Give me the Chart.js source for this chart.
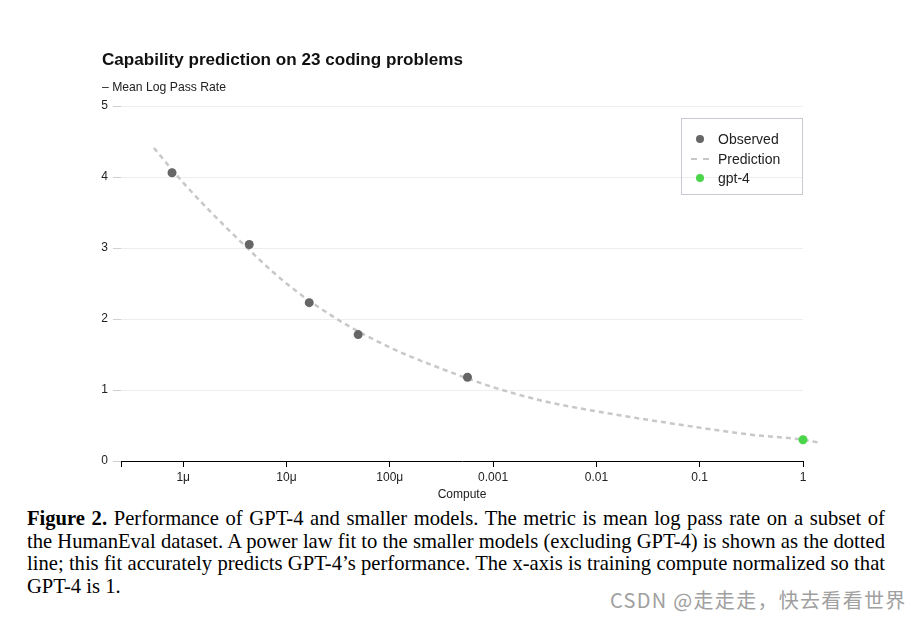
<!DOCTYPE html>
<html>
<head>
<meta charset="utf-8">
<script src="https://cdn.jsdelivr.net/npm/chart.js@4.4.1/dist/chart.umd.min.js"></script>
<style>
  body { margin: 0; background: #fff; width: 923px; height: 618px; position: relative; overflow: hidden; font-family: 'Liberation Sans', Arial, sans-serif; }
  #chart { position: absolute; left: 0; top: 0; }
  .title { position: absolute; left: 102px; top: 50px; font-size: 17.1px; font-weight: bold; color: #111; white-space: nowrap; }
  .subtitle { position: absolute; left: 102px; top: 80px; font-size: 12.2px; color: #222; white-space: nowrap; }
  #legend { position: absolute; left: 681px; top: 118px; width: 120px; height: 75px; border: 1px solid #c9c9d2; }
  .item { position: absolute; left: 0; height: 18px; line-height: 18px; font-size: 14px; color: #222; white-space: nowrap; }
  .item span.mk { position: absolute; left: 14px; top: 5px; width: 8px; height: 8px; border-radius: 50%; }
  .item span.dash { position: absolute; left: 9px; top: 8px; width: 18px; height: 0; border-top: 2px dashed #c8c8c8; }
  .item span.lb { position: absolute; left: 36px; }
  .caption { position: absolute; left: 27px; top: 507px; width: 858px; font-family: 'Liberation Serif', 'Times New Roman', serif; font-size: 20.6px; line-height: 22.7px; color: #000; }
  .caption div { text-align: justify; text-align-last: justify; white-space: nowrap; }
  .caption div.last { text-align-last: left; }
  .watermark { position: absolute; left: 610px; top: 585px; font-family: 'Noto Sans CJK SC', sans-serif; font-size: 20px; letter-spacing: 1.3px; color: #a0a0a0; white-space: nowrap; }
</style>
</head>
<body>
<canvas id="chart" width="923" height="502"></canvas>
<div class="title">Capability prediction on 23 coding problems</div>
<div class="subtitle">– Mean Log Pass Rate</div>
<div id="legend"></div>
<div class="caption">
  <div><b>Figure 2.</b> Performance of GPT-4 and smaller models. The metric is mean log pass rate on a subset of</div>
  <div>the HumanEval dataset. A power law fit to the smaller models (excluding GPT-4) is shown as the dotted</div>
  <div>line; this fit accurately predicts GPT-4’s performance. The x-axis is training compute normalized so that</div>
  <div class="last">GPT-4 is 1.</div>
</div>
<div class="watermark">CSDN @走走走，快去看看世界</div>
<script>
// observed smaller models (compute normalized so gpt-4 = 1)
const observedCompute = [7.8e-7, 4.36e-6, 1.66e-5, 4.94e-5, 5.65e-4];
const observedRate = [4.06, 3.05, 2.23, 1.78, 1.18];

const gpt4Compute = [1];
const gpt4Rate = [0.30];

// power law fit
const predCompute = [5.2e-7, 1e-6, 3.16e-6, 1e-5, 3.16e-5, 1e-4, 3.16e-4, 1e-3, 3.16e-3, 1e-2, 3.16e-2, 0.1, 0.316, 1, 1.41];
const predRate = [4.41, 3.92, 3.17, 2.50, 1.99, 1.60, 1.30, 1.04, 0.84, 0.70, 0.58, 0.47, 0.37, 0.30, 0.26];

const xMin = 2.5e-7;
const xMax = 1;
const xTickValues = [xMin, 1e-6, 1e-5, 1e-4, 1e-3, 1e-2, 1e-1, 1];
const xTickLabels = ['', '1μ', '10μ', '100μ', '0.001', '0.01', '0.1', '1'];
const yTicks = [0, 1, 2, 3, 4, 5];

const toPoints = (xs, ys) => xs.map((x, i) => ({ x: x, y: ys[i] }));
const fontFamily = "'Liberation Sans', Arial";

const datasets = [
    {
        label: 'Observed',
        data: toPoints(observedCompute, observedRate),
        showLine: false,
        pointRadius: 4.5,
        pointBackgroundColor: '#666666',
        pointBorderWidth: 0,
        borderColor: '#666666',
    },
    {
        label: 'gpt-4',
        data: toPoints(gpt4Compute, gpt4Rate),
        showLine: false,
        pointRadius: 4.5,
        pointBackgroundColor: '#4bd54b',
        pointBorderWidth: 0,
        borderColor: '#4bd54b',
        clip: false,
    },
    {
        label: 'Prediction',
        data: toPoints(predCompute, predRate),
        showLine: true,
        pointRadius: 0,
        borderColor: '#c8c8c8',
        borderWidth: 2.5,
        borderDash: [5, 4],
        cubicInterpolationMode: 'monotone',
        clip: false,
    },
];

new Chart(document.getElementById('chart'), {
    type: 'scatter',
    data: { datasets: datasets },
    options: {
        responsive: false,
        animation: false,
        devicePixelRatio: 1,
        layout: { padding: { top: 106, right: 120, left: 0, bottom: 0 } },
        plugins: { legend: { display: false }, tooltip: { enabled: false } },
        scales: {
            x: {
                type: 'logarithmic',
                bounds: 'data',
                // range set here (not via min/max) so the fit line can run past x = 1
                afterDataLimits: (scale) => {
                    scale.min = xMin;
                    scale.max = xMax;
                },
                afterBuildTicks: (scale) => {
                    scale.ticks = xTickValues.map(v => ({ value: v }));
                },
                afterFit: (scale) => { scale.height = 41; },
                grid: { drawOnChartArea: false, tickLength: 6, tickColor: '#000', lineWidth: 1 },
                border: { display: true, color: '#000', width: 1 },
                ticks: {
                    autoSkip: false,
                    maxRotation: 0,
                    padding: 3,
                    color: '#222',
                    font: { family: fontFamily, size: 12 },
                    callback: (value, index) => xTickLabels[index],
                },
                title: {
                    display: true,
                    text: 'Compute',
                    color: '#222',
                    font: { family: fontFamily, size: 12 },
                    padding: { top: 0, bottom: 0 },
                },
            },
            y: {
                min: 0,
                max: 5,
                afterBuildTicks: (scale) => {
                    scale.ticks = yTicks.map(v => ({ value: v }));
                },
                afterFit: (scale) => { scale.width = 121; },
                grid: {
                    color: (ctx) => ctx.tick && ctx.tick.value === 0 ? 'rgba(0,0,0,0)' : '#eeeeee',
                    tickColor: '#d0d0d0',
                    tickLength: 8,
                },
                border: { display: false },
                ticks: {
                    padding: 5,
                    color: '#222',
                    font: { family: fontFamily, size: 12 },
                },
            },
        },
    },
});

// legend box in the top right corner
const legendItems = [
    { label: 'Observed', type: 'dot', color: '#666666' },
    { label: 'Prediction', type: 'dash', color: '#c8c8c8' },
    { label: 'gpt-4', type: 'dot', color: '#4bd54b' },
];
const legend = document.getElementById('legend');
legendItems.forEach((it, i) => {
    const row = document.createElement('div');
    row.className = 'item';
    row.style.top = (11 + i * 19.5) + 'px';
    const mk = document.createElement('span');
    if (it.type === 'dot') {
        mk.className = 'mk';
        mk.style.background = it.color;
    } else {
        mk.className = 'dash';
    }
    const lb = document.createElement('span');
    lb.className = 'lb';
    lb.textContent = it.label;
    row.appendChild(mk);
    row.appendChild(lb);
    legend.appendChild(row);
});
</script>
</body>
</html>
